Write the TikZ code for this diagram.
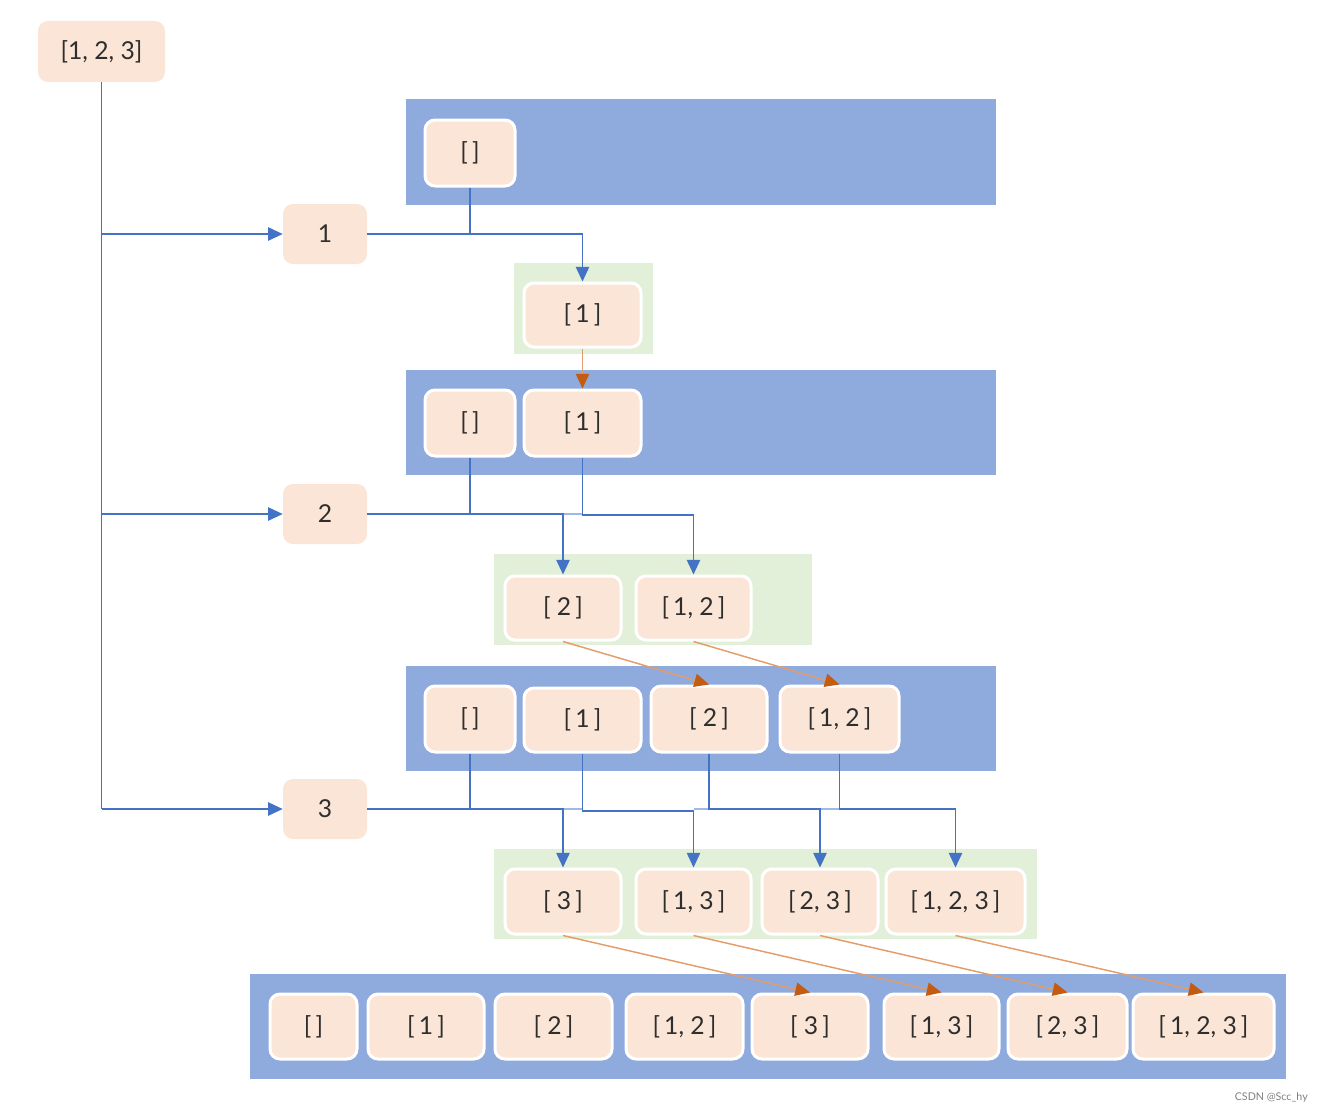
\documentclass[tikz,border=0pt]{standalone}
\usepackage{fontspec}
\setmainfont{Lato}
\usetikzlibrary{arrows.meta}
\definecolor{peach}{HTML}{FBE5D6}
\definecolor{bluebg}{HTML}{8FAADC}
\definecolor{greenbg}{HTML}{E2F0D9}
\definecolor{lineblue}{HTML}{4472C4}
\definecolor{orangehead}{HTML}{C55A11}
\definecolor{orangeline}{HTML}{E39D6A}
\definecolor{txt}{HTML}{2E2E2E}
\newcommand\pnode[7]{%
  \node[#1, minimum width={(#5-#3)*0.75pt}, minimum height={(#6-#4)*0.75pt}] (#2) at ({(#3+#5)/2},{(#4+#6)/2}) {#7};}
\tikzset{
  pk/.style={rectangle, rounded corners=7.5pt, fill=peach, text=txt, inner sep=0pt, font=\fontsize{18.5}{20}\selectfont},
  pkw/.style={pk, draw=white, line width=2.25pt},
  conn/.style={draw=lineblue, line width=1.2pt},
  arr/.style={conn, -{Triangle[length=11pt,width=10pt]}},
  oarr/.style={draw=orangeline, line width=1.1pt, -{Triangle[length=11pt,width=10pt,color=orangehead]}},
}
\begin{document}
\begin{tikzpicture}[x=0.75pt, y=-0.75pt]
\useasboundingbox (0,0) rectangle (1323,1113);
% background panels
\fill[bluebg] (406,99) rectangle (996,205);
\fill[greenbg] (514,263) rectangle (653,354);
\fill[bluebg] (406,370) rectangle (996,475);
\fill[greenbg] (494,554) rectangle (812,645);
\fill[bluebg] (406,666) rectangle (996,771);
\fill[greenbg] (494,849) rectangle (1037,939);
\fill[bluebg] (250,974) rectangle (1286,1079);
% left column
\pnode{pk}{top}{38}{21}{165}{82}{[1, 2, 3]}
\pnode{pk}{n1}{283}{204}{367}{264}{1}
\pnode{pk}{n2}{283}{484}{367}{544}{2}
\pnode{pk}{n3}{283}{779}{367}{839}{3}
% level 1
\pnode{pkw}{b1a}{425}{120}{515}{186}{[\,]}
\pnode{pkw}{g1a}{524}{283}{641}{347}{[\,1\,]}
% level 2
\pnode{pkw}{b2a}{425}{390}{515}{456}{[\,]}
\pnode{pkw}{b2b}{524}{390}{641}{456}{[\,1\,]}
\pnode{pkw}{g2a}{505}{576}{621}{640}{[ 2\,]}
\pnode{pkw}{g2b}{636}{576}{751}{640}{[\,1, 2\,]}
% level 3
\pnode{pkw}{b3a}{425}{686}{515}{752}{[\,]}
\pnode{pkw}{b3b}{524}{688}{641}{752}{[\,1\,]}
\pnode{pkw}{b3c}{651}{686}{767}{752}{[ 2\,]}
\pnode{pkw}{b3d}{780}{686}{899}{752}{[\,1, 2\,]}
\pnode{pkw}{g3a}{505}{869}{621}{934}{[ 3\,]}
\pnode{pkw}{g3b}{636}{869}{751}{934}{[\,1, 3\,]}
\pnode{pkw}{g3c}{762}{869}{878}{934}{[\,2, 3\,]}
\pnode{pkw}{g3d}{886}{869}{1025}{934}{[\,1, 2, 3\,]}
% level 4
\pnode{pkw}{b4a}{270}{994}{357}{1059}{[\,]}
\pnode{pkw}{b4b}{368}{994}{484}{1059}{[\,1\,]}
\pnode{pkw}{b4c}{495}{994}{612}{1059}{[ 2\,]}
\pnode{pkw}{b4d}{626}{994}{743}{1059}{[\,1, 2\,]}
\pnode{pkw}{b4e}{752}{994}{868}{1059}{[ 3\,]}
\pnode{pkw}{b4f}{884}{994}{999}{1059}{[\,1, 3\,]}
\pnode{pkw}{b4g}{1008}{994}{1127}{1059}{[\,2, 3\,]}
\pnode{pkw}{b4h}{1133}{994}{1274}{1059}{[\,1, 2, 3\,]}
% trunk and branches
\draw[conn] (top.south) -- (top.south |- n3.west);
\draw[arr] (top.south |- n1.west) -- (n1.west);
\draw[arr] (top.south |- n2.west) -- (n2.west);
\draw[arr] (top.south |- n3.west) -- (n3.west);
% level 1 connectors
\draw[conn] (b1a.south) -- (b1a.south |- n1.east);
\draw[arr] (n1.east) -| (g1a.north);
\draw[oarr] (g1a.south) -- (b2b.north);
% level 2 connectors
\draw[conn] (b2a.south) -- (b2a.south |- n2.east);
\draw[arr] (n2.east) -| (g2a.north);
\draw[arr] (b2b.south) |- ([yshift=-0.75pt]g2b.north |- n2.east) -- (g2b.north);
\draw[conn, draw opacity=0.5] (g2a.north |- n2.east) -- (b2b.south |- n2.east);
\draw[oarr] (g2a.south) -- (b3c.north);
\draw[oarr] (g2b.south) -- (b3d.north);
% level 3 connectors
\draw[conn] (b3a.south) -- (b3a.south |- n3.east);
\draw[arr] (n3.east) -| (g3a.north);
\draw[conn, draw opacity=0.5] (g3a.north |- n3.east) -- (b3b.south |- n3.east);
\draw[arr] (b3b.south) |- ([yshift=-1.5pt]g3b.north |- n3.east) -- (g3b.north);
\draw[arr] (b3c.south) |- (g3c.north |- n3.east) -- (g3c.north);
\draw[conn, draw opacity=0.5] (g3b.north |- n3.east) -- (b3c.south |- n3.east);
\draw[arr] (b3d.south) |- (g3d.north |- n3.east) -- (g3d.north);
\draw[conn, draw opacity=0.5] (g3c.north |- n3.east) -- (b3d.south |- n3.east);
\draw[oarr] (g3a.south) -- (b4e.north);
\draw[oarr] (g3b.south) -- (b4f.north);
\draw[oarr] (g3c.south) -- (b4g.north);
\draw[oarr] (g3d.south) -- (b4h.north);
% watermark
\node[anchor=east, inner sep=0pt, text=gray, font=\fontsize{8}{9}\selectfont] (wm) at (1308,1097) {CSDN @Scc\_hy};
\end{tikzpicture}
\end{document}
